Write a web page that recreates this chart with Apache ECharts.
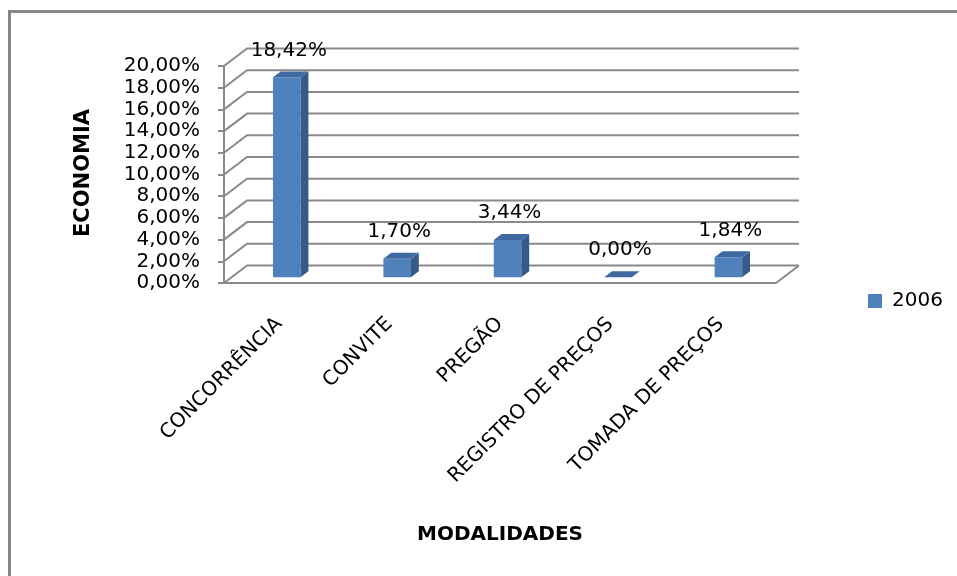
<!DOCTYPE html>
<html>
<head>
<meta charset="utf-8">
<script src="https://cdn.jsdelivr.net/npm/echarts@6/dist/echarts.min.js"></script>
<style>
html, body { margin: 0; padding: 0; background: #ffffff; }
#chart { width: 957px; height: 576px; }
</style>
</head>
<body>
<div id="chart"></div>
<script>
// 功能目的:
// 用 ECharts 画一个仿 Excel 三维柱状图 (ECONOMIA / MODALIDADES)。
// 柱子和背景墙都用 custom 系列，坐标全部经过 api.coord 换算。

// 数据
const 类目列表 = ['CONCORRÊNCIA', 'CONVITE', 'PREGÃO', 'REGISTRO DE PREÇOS', 'TOMADA DE PREÇOS']
const 数值列表 = [18.42, 1.7, 3.44, 0.0, 1.84]
const 系列名 = '2006'
const 纵轴刻度值 = [0, 2, 4, 6, 8, 10, 12, 14, 16, 18, 20]
const 纵轴刻度文本 = [
  '0,00%', '2,00%', '4,00%', '6,00%', '8,00%', '10,00%',
  '12,00%', '14,00%', '16,00%', '18,00%', '20,00%',
]
const 纵轴标题 = 'ECONOMIA'
const 横轴标题 = 'MODALIDADES'

// 样式
const 字体 = '"DejaVu Sans", sans-serif'
const 正面颜色 = '#4f81bd'
const 侧面颜色 = '#365b89'
const 顶面颜色 = '#3f69a0'
const 网格线颜色 = '#8a8a8a'
const 深度X = 23
const 深度Y = -17.5
const 柱前比例 = 0.33
const 柱后比例 = 0.67
const 柱宽比例 = 0.25

function 格式化百分比(值) {
  return 值.toFixed(2).replace('.', ',') + '%'
}

function 渲染背景墙(params, api) {
  const 值 = api.value(1)
  const 区域 = params.coordSys
  const y = api.coord([0, 值])[1]
  const x0 = 区域.x
  const x1 = 区域.x + 区域.width
  const 线样式 = { stroke: 网格线颜色, lineWidth: 2, fill: null }
  const 子元素 = [
    {
      type: 'polyline',
      shape: {
        points: [
          [x0, y],
          [x0 + 深度X, y + 深度Y],
          [x1 + 深度X, y + 深度Y],
        ],
      },
      style: 线样式,
    },
  ]
  if (值 === 0) {
    子元素.push({
      type: 'line',
      shape: { x1: x1, y1: y, x2: x1 + 深度X, y2: y + 深度Y },
      style: 线样式,
    })
  }
  return { type: 'group', children: 子元素 }
}

function 渲染立体柱(params, api) {
  const 索引 = api.value(0)
  const 值 = api.value(1)
  const 底 = api.coord([索引, 0])
  const 顶 = api.coord([索引, 值])
  const 宽 = api.size([1, 0])[0] * 柱宽比例
  const 前X = 深度X * 柱前比例
  const 前Y = 深度Y * 柱前比例
  const 厚X = 深度X * (柱后比例 - 柱前比例)
  const 厚Y = 深度Y * (柱后比例 - 柱前比例)

  const 左 = 底[0] - 宽 / 2 + 前X
  const 右 = 左 + 宽
  const 上 = 顶[1] + 前Y
  const 下 = 底[1] + 前Y

  return {
    type: 'group',
    children: [
      {
        type: 'rect',
        shape: { x: 左, y: 上, width: 宽, height: 下 - 上 },
        style: { fill: 正面颜色 },
      },
      {
        type: 'polygon',
        shape: {
          points: [
            [右, 上],
            [右 + 厚X, 上 + 厚Y],
            [右 + 厚X, 下 + 厚Y],
            [右, 下],
          ],
        },
        style: { fill: 侧面颜色 },
      },
      {
        type: 'polygon',
        shape: {
          points: [
            [左, 上],
            [左 + 厚X, 上 + 厚Y],
            [右 + 厚X, 上 + 厚Y],
            [右, 上],
          ],
        },
        style: { fill: 顶面颜色 },
      },
      {
        type: 'text',
        style: {
          text: 格式化百分比(值),
          x: (左 + 右) / 2 + 2,
          y: 上 + 厚Y - 21,
          align: 'center',
          verticalAlign: 'middle',
          font: '20px ' + 字体,
          fill: '#000000',
        },
      },
    ],
  }
}

const 图表 = echarts.init(document.getElementById('chart'), null, { renderer: 'canvas' })

图表.setOption({
  backgroundColor: '#ffffff',
  animation: false,
  textStyle: { fontFamily: 字体 },
  grid: { left: 224, top: 66, width: 552, height: 217 },
  legend: {
    data: [{ name: 系列名, icon: 'rect' }],
    left: 863,
    top: 286,
    itemWidth: 14,
    itemHeight: 14,
    textStyle: {
      fontFamily: 字体,
      fontSize: 20,
      color: '#000000',
      padding: [0, 0, 0, 5],
    },
  },
  xAxis: {
    type: 'category',
    data: 类目列表,
    axisLine: { lineStyle: { color: 网格线颜色, width: 2 } },
    axisTick: { show: false },
    splitLine: { show: false },
    axisLabel: {
      interval: 0,
      rotate: 45,
      margin: 38,
      fontFamily: 字体,
      fontSize: 20,
      color: '#000000',
    },
  },
  yAxis: {
    type: 'value',
    min: 0,
    max: 20,
    interval: 2,
    axisLine: { show: true, lineStyle: { color: 网格线颜色, width: 2 } },
    axisTick: { show: true, length: 6, lineStyle: { color: 网格线颜色, width: 2 } },
    splitLine: { show: false },
    axisLabel: {
      margin: 24,
      fontFamily: 字体,
      fontSize: 20,
      color: '#000000',
      formatter: (值) => 纵轴刻度文本[纵轴刻度值.indexOf(值)] ?? '',
    },
  },
  graphic: [
    {
      type: 'line',
      shape: { x1: 9.5, y1: 10, x2: 9.5, y2: 576 },
      style: { stroke: '#878787', lineWidth: 3 },
    },
    {
      type: 'line',
      shape: { x1: 8, y1: 11.5, x2: 957, y2: 11.5 },
      style: { stroke: '#878787', lineWidth: 3 },
    },
    {
      type: 'text',
      x: 84,
      y: 173,
      rotation: Math.PI / 2,
      style: {
        text: 纵轴标题,
        font: 'bold 21px ' + 字体,
        align: 'center',
        verticalAlign: 'middle',
        fill: '#000000',
      },
    },
    {
      type: 'text',
      x: 500,
      y: 535,
      style: {
        text: 横轴标题,
        font: 'bold 20px ' + 字体,
        align: 'center',
        verticalAlign: 'middle',
        fill: '#000000',
      },
    },
  ],
  series: [
    {
      type: 'custom',
      z: 1,
      silent: true,
      renderItem: 渲染背景墙,
      encode: { x: 0, y: 1 },
      data: 纵轴刻度值.map((值) => [0, 值]),
    },
    {
      name: 系列名,
      type: 'custom',
      z: 3,
      itemStyle: { color: 正面颜色 },
      renderItem: 渲染立体柱,
      encode: { x: 0, y: 1 },
      data: 数值列表.map((值, 索引) => [索引, 值]),
    },
  ],
})
</script>
</body>
</html>
